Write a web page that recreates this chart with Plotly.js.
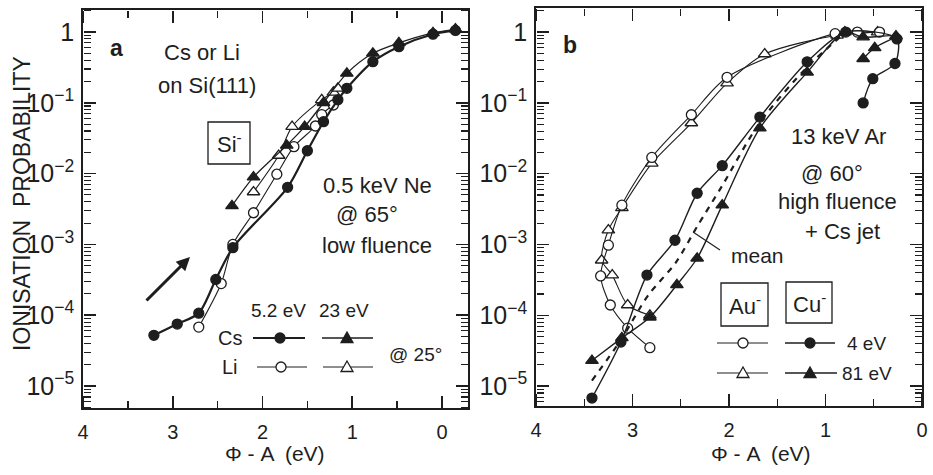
<!DOCTYPE html>
<html>
<head>
<meta charset="utf-8">
<script src="https://cdn.plot.ly/plotly-3.0.1.min.js"></script>
<style>html,body{margin:0;padding:0;background:#fff;}#chart{width:933px;height:475px;}</style>
</head>
<body>
<div id="chart"></div>
<script>
// ---------- Panel a : Si- from Cs or Li on Si(111) ----------
const csLowX  = [3.21, 2.95, 2.71, 2.52, 2.33, 1.72, 1.50, 1.32, 1.16, 1.06, 0.77, 0.48, 0.10, -0.15];
const csLowY  = [5.2e-5, 7.5e-5, 1.07e-4, 3.2e-4, 9.0e-4, 6.4e-3, 0.021, 0.054, 0.11, 0.16, 0.38, 0.62, 0.93, 1.05];
const csHighX = [2.34, 2.10, 1.73, 1.53, 1.32, 1.06, 0.77, 0.48, 0.10, -0.15];
const csHighY = [3.5e-3, 8.9e-3, 0.025, 0.046, 0.10, 0.26, 0.50, 0.70, 0.97, 1.10];
const liLowX  = [2.71, 2.46, 2.33, 2.10, 1.84, 1.65, 1.41, 1.34, 1.21];
const liLowY  = [6.8e-5, 2.8e-4, 1.0e-3, 2.8e-3, 9.8e-3, 0.024, 0.047, 0.068, 0.093];
const liHighX = [2.10, 1.82, 1.67, 1.34, 1.21, 1.16];
const liHighY = [5.5e-3, 0.018, 0.046, 0.11, 0.14, 0.16];

// ---------- Panel b : Au- and Cu-, 13 keV Ar ----------
const au4X  = [0.44, 0.67, 0.90, 2.02, 2.39, 2.80, 3.11, 3.25, 3.33, 3.23, 3.05, 2.82];
const au4Y  = [1.0, 1.0, 0.95, 0.23, 0.068, 0.017, 3.6e-3, 9.8e-4, 3.6e-4, 1.4e-4, 6.6e-5, 3.5e-5];
const au81X = [0.46, 0.88, 1.63, 2.02, 2.39, 2.80, 3.11, 3.25, 3.32, 3.21, 3.05, 2.82];
const au81Y = [1.0, 0.90, 0.49, 0.19, 0.052, 0.014, 3.3e-3, 1.6e-3, 6.0e-4, 3.7e-4, 1.4e-4, 1.0e-4];
const cu4X  = [3.42, 3.12, 2.85, 2.56, 2.33, 2.07, 1.68, 1.19, 0.79, 0.26, 0.28, 0.51, 0.61];
const cu4Y  = [6.8e-6, 4.2e-5, 3.7e-4, 1.15e-3, 5.3e-3, 0.013, 0.063, 0.38, 1.0, 0.80, 0.36, 0.22, 0.10];
const cu81X = [3.42, 3.11, 2.82, 2.54, 2.33, 2.07, 1.68, 1.19, 0.80, 0.61, 0.27, 0.49, 0.61];
const cu81Y = [2.3e-5, 4.8e-5, 9.4e-5, 2.7e-4, 6.4e-4, 3.6e-3, 0.044, 0.27, 1.0, 0.85, 0.88, 0.60, 0.42];
const meanX = [3.42, 3.12, 2.84, 2.55, 2.33, 2.07, 1.68, 1.19, 0.79];
const meanY = [1.2e-5, 4.5e-5, 1.9e-4, 5.6e-4, 1.8e-3, 6.8e-3, 0.053, 0.32, 1.0];

// ---------- tick positions ----------
const xMajorTicks = [4, 3, 2, 1, 0];
const xMinorTicks = [3.5, 2.5, 1.5, 0.5];
const yMajorTicks = [1e-5, 1e-4, 1e-3, 1e-2, 1e-1, 1];
const yDecades = [1e-6, 1e-5, 1e-4, 1e-3, 1e-2, 1e-1, 1];
const yMinorTicks = [];
yDecades.forEach(d => { for (let k = 2; k <= 9; k++) yMinorTicks.push(d * k); });

const INK = '#1e1e1e';
const FONT = 'Liberation Sans, Arial, Helvetica, sans-serif';
const W = 933, H = 475;
const px = v => v / W;
const py = v => 1 - v / H;

function tr(x, y, xa, ya, sym, filled, lw, size, dash) {
  return {
    x: x, y: y, xaxis: xa, yaxis: ya, type: 'scatter', mode: 'lines+markers',
    line: {color: INK, width: lw, shape: 'spline', smoothing: 0.8, dash: dash || 'solid'},
    marker: {symbol: sym, size: size, color: filled ? INK : '#ffffff',
             line: {color: INK, width: 1.3}},
    showlegend: false, hoverinfo: 'skip', cliponaxis: false
  };
}
function empty(xa, ya) {
  return {x: [], y: [], xaxis: xa, yaxis: ya, type: 'scatter', mode: 'markers', showlegend: false, hoverinfo: 'skip'};
}

const data = [
  tr(liLowX, liLowY, 'x', 'y', 'circle', false, 1.1, 10),
  tr(liHighX, liHighY, 'x', 'y', 'triangle-up', false, 1.1, 11),
  tr(csHighX, csHighY, 'x', 'y', 'triangle-up', true, 1.3, 11),
  tr(csLowX, csLowY, 'x', 'y', 'circle', true, 2.2, 10),
  tr(au81X, au81Y, 'x2', 'y2', 'triangle-up', false, 1.1, 11),
  tr(au4X, au4Y, 'x2', 'y2', 'circle', false, 1.1, 10),
  {x: meanX, y: meanY, xaxis: 'x2', yaxis: 'y2', type: 'scatter', mode: 'lines',
   line: {color: INK, width: 2.2, dash: '6px,6px', shape: 'spline', smoothing: 0.8},
   showlegend: false, hoverinfo: 'skip'},
  tr(cu81X, cu81Y, 'x2', 'y2', 'triangle-up', true, 1.4, 11),
  tr(cu4X, cu4Y, 'x2', 'y2', 'circle', true, 1.4, 10)
];

function xax(domain, range, anchor) {
  return {domain: domain, range: range, anchor: anchor, side: 'bottom', dtick: 1, tick0: 0, ticks: '',
    showline: true, linecolor: INK, linewidth: 1.8, mirror: true, showgrid: false, zeroline: false,
    ticklabelstandoff: 5, tickfont: {family: FONT, size: 20, color: INK}};
}
function yax(domain, range, anchor) {
  return {domain: domain, range: range, type: 'log', dtick: 1, exponentformat: 'power', side: 'left',
    anchor: anchor, ticks: '', showline: true, linecolor: INK, linewidth: 1.8, mirror: true,
    showgrid: false, zeroline: false, ticklabelstandoff: 3,
    tickfont: {family: FONT, size: 20, color: INK}};
}

const xRangeA = [4, -0.29], xRangeB = [4, 0];
const yRangeA = [-5.31, 0.31], yRangeB = [-5.28, 0.34];
const xDomA = [83 / W, 468 / W], xDomB = [536 / W, 922 / W];
const yDomA = [1 - 408 / H, 1 - 10 / H], yDomB = [1 - 406 / H, 1 - 8 / H];

const layout = {
  width: W, height: H, margin: {l: 0, r: 0, t: 0, b: 0},
  paper_bgcolor: '#ffffff', plot_bgcolor: '#ffffff', showlegend: false,
  font: {family: FONT, color: INK},
  xaxis: xax(xDomA, xRangeA, 'y'),
  yaxis: yax(yDomA, yRangeA, 'x'),
  xaxis2: xax(xDomB, xRangeB, 'y2'),
  yaxis2: yax(yDomB, yRangeB, 'x2')
};

// Tick-only axes drawn at each frame edge, ticks pointing into the plot area.
let nx = 3, ny = 3;
function addTickAxes(mainX, mainY, xRange, yRange, xDom, yDom) {
  const yPos = [[xDom[0], 'right'], [xDom[1], 'left']];
  const xPos = [[yDom[0], 'top'], [yDom[1], 'bottom']];
  const sets = [[true, 12, 1.5], [false, 7, 1.1]];
  yPos.forEach(([pos, side]) => sets.forEach(([major, len, w]) => {
    const id = 'yaxis' + ny;
    layout[id] = {overlaying: mainY, anchor: 'free', position: pos, side: side, type: 'log',
      range: yRange, tickmode: 'array', tickvals: major ? yMajorTicks : yMinorTicks,
      ticks: 'outside', ticklen: len, tickwidth: w, tickcolor: INK, showticklabels: false,
      showline: false, showgrid: false, zeroline: false};
    data.push(empty(mainX, 'y' + ny));
    ny++;
  }));
  xPos.forEach(([pos, side]) => sets.forEach(([major, len, w]) => {
    const id = 'xaxis' + nx;
    layout[id] = {overlaying: mainX, anchor: 'free', position: pos, side: side,
      range: xRange, tickmode: 'array', tickvals: major ? xMajorTicks : xMinorTicks,
      ticks: 'outside', ticklen: len, tickwidth: w + 0.2, tickcolor: INK, showticklabels: false,
      showline: false, showgrid: false, zeroline: false};
    data.push(empty('x' + nx, mainY));
    nx++;
  }));
}
addTickAxes('x', 'y', xRangeA, yRangeA, xDomA, yDomA);
addTickAxes('x2', 'y2', xRangeB, yRangeB, xDomB, yDomB);

function txt(x, y, t, size, extra) {
  return Object.assign({xref: 'paper', yref: 'paper', x: px(x), y: py(y), text: t,
    showarrow: false, xanchor: 'center', yanchor: 'middle',
    font: {family: FONT, size: size, color: INK}}, extra || {});
}

layout.annotations = [
  txt(22, 204, 'IONISATION  PROBABILITY', 23, {textangle: -90}),
  txt(275, 453, 'Φ - A  (eV)', 21),
  txt(761, 453, 'Φ - A  (eV)', 21),
  txt(116, 48, '<b>a</b>', 23),
  txt(202, 53, 'Cs or Li', 22),
  txt(207, 85, 'on Si(111)', 22),
  txt(229, 143, 'Si<sup>-</sup>', 22),
  txt(377, 185, '0.5 keV Ne', 22),
  txt(367, 214, '@ 65°', 22),
  txt(377, 245, 'low fluence', 22),
  txt(278, 310, '5.2 eV', 19),
  txt(344, 310, '23 eV', 19),
  txt(230, 338, 'Cs', 20),
  txt(230, 367, 'Li', 20),
  txt(415, 354, '@ 25°', 19),
  {xref: 'paper', yref: 'paper', x: px(190), y: py(257), ax: -45, ay: 45, text: '',
   showarrow: true, arrowhead: 2, arrowsize: 0.9, arrowwidth: 3, arrowcolor: INK},
  txt(570, 45, '<b>b</b>', 23),
  txt(838, 137, '13 keV Ar', 22),
  txt(832, 173, '@ 60°', 22),
  txt(837, 201, 'high fluence', 22),
  txt(842, 231, '+ Cs jet', 22),
  txt(757, 255, 'mean', 21),
  txt(745, 305, 'Au<sup>-</sup>', 22),
  txt(809, 303, 'Cu<sup>-</sup>', 22),
  txt(866, 343, '4 eV', 19),
  txt(867, 373, '81 eV', 19)
];

function seg(x0, x1, y, w) {
  return {type: 'line', xref: 'paper', yref: 'paper', x0: px(x0), x1: px(x1), y0: py(y), y1: py(y),
    line: {color: INK, width: w}};
}
function rect(x0, y0, x1, y1) {
  return {type: 'rect', xref: 'paper', yref: 'paper', x0: px(x0), x1: px(x1), y0: py(y0), y1: py(y1),
    line: {color: INK, width: 1.3}};
}
function circ(x, y, filled) {
  return {type: 'circle', xref: 'paper', yref: 'paper', xsizemode: 'pixel', ysizemode: 'pixel',
    xanchor: px(x), yanchor: py(y), x0: -5, x1: 5, y0: -5, y1: 5,
    fillcolor: filled ? INK : '#ffffff', line: {color: INK, width: 1.3}};
}
function tri(x, y, filled) {
  return {type: 'path', xref: 'paper', yref: 'paper', xsizemode: 'pixel', ysizemode: 'pixel',
    xanchor: px(x), yanchor: py(y), path: 'M -6 -4.5 L 6 -4.5 L 0 6 Z',
    fillcolor: filled ? INK : '#ffffff', line: {color: INK, width: 1.3}};
}

layout.shapes = [
  rect(208, 122, 250, 164),
  seg(253, 305, 338, 2.2), circ(280, 338, true),
  seg(322, 373, 338, 1.3), tri(347, 338, true),
  seg(257, 307, 367, 1.1), circ(281, 367, false),
  seg(323, 373, 367, 1.1), tri(347, 367, false),
  rect(721, 283, 768, 326),
  rect(786, 282, 832, 323),
  seg(717, 768, 343, 1.1), circ(743, 343, false),
  seg(785, 835, 343, 1.4), circ(810, 343, true),
  seg(717, 768, 373, 1.1), tri(743, 373, false),
  seg(785, 837, 373, 1.4), tri(810, 373, true),
  {type: 'line', xref: 'paper', yref: 'paper', x0: px(720), y0: py(250), x1: px(693), y1: py(232),
   line: {color: INK, width: 1.2}}
];

Plotly.newPlot('chart', data, layout, {staticPlot: true, displayModeBar: false});
</script>
</body>
</html>
